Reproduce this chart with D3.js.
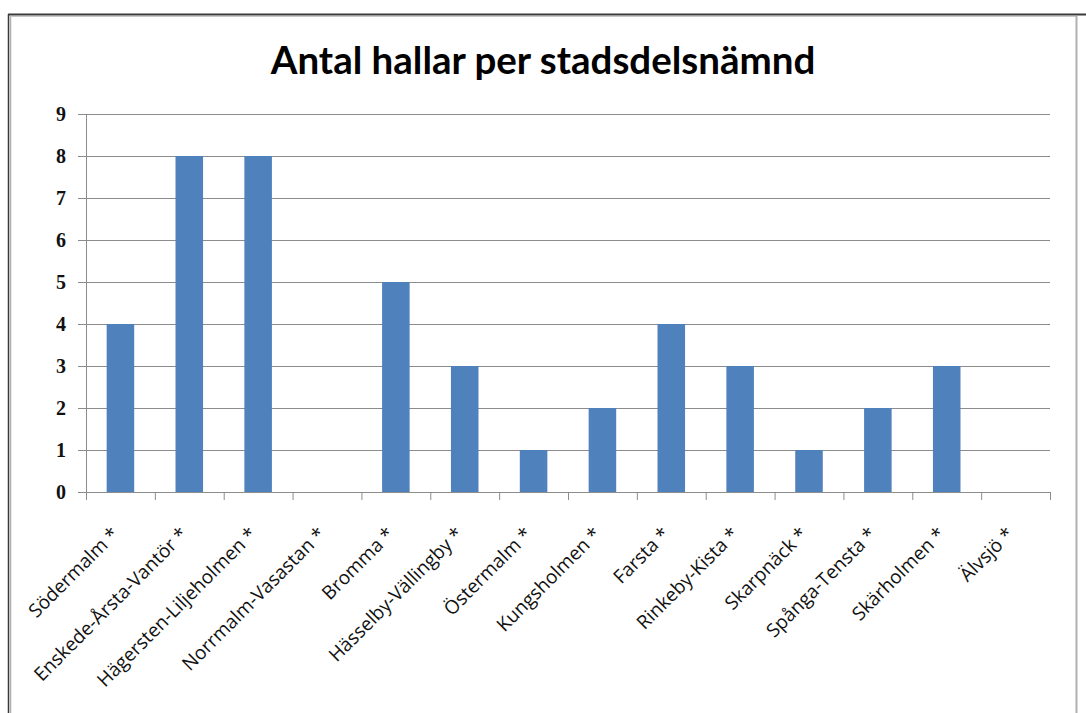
<!DOCTYPE html>
<html>
<head>
<meta charset="utf-8">
<script src="https://cdn.jsdelivr.net/npm/d3@7"></script>
<style>
  body { margin: 0; background: #fff; }
  svg { display: block; }
</style>
</head>
<body>
<div id="chart"></div>
<script>
// stadsdelsnämnder och antal hallar
const districts = ["Södermalm *", "Enskede-Årsta-Vantör *", "Hägersten-Liljeholmen *", "Norrmalm-Vasastan *",
    "Bromma *", "Hässelby-Vällingby *", "Östermalm *", "Kungsholmen *", "Farsta *", "Rinkeby-Kista *",
    "Skarpnäck *", "Spånga-Tensta *", "Skärholmen *", "Älvsjö *"];
const halls = [4, 8, 8, 0, 5, 3, 1, 2, 4, 3, 1, 2, 3, 0];
const yTicks = [0, 1, 2, 3, 4, 5, 6, 7, 8, 9];
const title = "Antal hallar per stadsdelsnämnd";

const W = 1086, H = 713;
const margin = { top: 114, right: 36, bottom: 221, left: 86 };
const width = W - margin.left - margin.right,
      height = H - margin.top - margin.bottom;

const svg = d3.select("#chart").append("svg")
    .attr("width", W)
    .attr("height", H);

// ram
svg.append("line").attr("x1", 8).attr("x2", W).attr("y1", 14.5).attr("y2", 14.5)
    .attr("stroke", "#3a3a3a").attr("stroke-width", 2);
svg.append("line").attr("x1", 8.5).attr("x2", 8.5).attr("y1", 14).attr("y2", H)
    .attr("stroke", "#3a3a3a").attr("stroke-width", 1.5);
svg.append("line").attr("x1", 10.5).attr("x2", 10.5).attr("y1", 16).attr("y2", H)
    .attr("stroke", "#b0b0b0").attr("stroke-width", 1.5);
svg.append("line").attr("x1", 10).attr("x2", 1077).attr("y1", 16.5).attr("y2", 16.5)
    .attr("stroke", "#c8c8c8").attr("stroke-width", 1);
svg.append("line").attr("x1", 1076.5).attr("x2", 1076.5).attr("y1", 16).attr("y2", H)
    .attr("stroke", "#b0b0b0").attr("stroke-width", 2);

svg.append("text")
    .attr("x", 543)
    .attr("y", 74)
    .attr("text-anchor", "middle")
    .style("font-family", "Lato, 'Open Sans', sans-serif")
    .style("font-weight", "bold")
    .style("font-size", "38.5px")
    .text(title);

const g = svg.append("g")
    .attr("transform", `translate(${margin.left},${margin.top})`);

const x = d3.scaleBand()
    .domain(districts)
    .range([0, width])
    .paddingInner(0.6)
    .paddingOuter(0.3);

const xb = d3.scaleLinear()
    .domain([0, districts.length])
    .range([0, width]);

const y = d3.scaleLinear()
    .domain([0, 9])
    .range([height, 0]);

// stödlinjer
g.append("g")
    .selectAll("line")
    .data(yTicks.slice(1))
    .enter().append("line")
    .attr("x1", 0)
    .attr("x2", width)
    .attr("y1", d => y(d) + 0.5)
    .attr("y2", d => y(d) + 0.5)
    .attr("stroke", "#8c8c8c")
    .attr("stroke-width", 1);

g.append("g")
    .selectAll("rect")
    .data(halls)
    .enter().append("rect")
    .attr("x", (d, i) => x(districts[i]))
    .attr("y", d => y(d))
    .attr("width", x.bandwidth())
    .attr("height", d => height - y(d))
    .attr("fill", "#4f81bd");

const yAxis = g.append("g")
    .call(d3.axisLeft(y).tickValues(yTicks).tickSize(8).tickPadding(12).tickSizeOuter(0));
yAxis.selectAll("line, path").attr("stroke", "#8c8c8c");
yAxis.selectAll("text")
    .style("font-family", "'Liberation Serif', serif")
    .style("font-weight", "bold")
    .style("font-size", "20px")
    .attr("fill", "#111");

const xAxis = g.append("g")
    .attr("transform", `translate(0,${height})`)
    .call(d3.axisBottom(xb).tickValues(d3.range(districts.length + 1)).tickSize(8).tickSizeOuter(0).tickFormat(""));
xAxis.selectAll("line, path").attr("stroke", "#8c8c8c");

g.append("g")
    .selectAll("text")
    .data(districts)
    .enter().append("text")
    .attr("transform", d => `translate(${x(d) + x.bandwidth() / 2 - 10},${height + 34}) rotate(-45)`)
    .attr("text-anchor", "end")
    .attr("dy", "0.7em")
    .style("font-family", "'Open Sans', Lato, sans-serif")
    .style("font-size", "19px")
    .attr("fill", "#111")
    .text(d => d);
</script>
</body>
</html>
